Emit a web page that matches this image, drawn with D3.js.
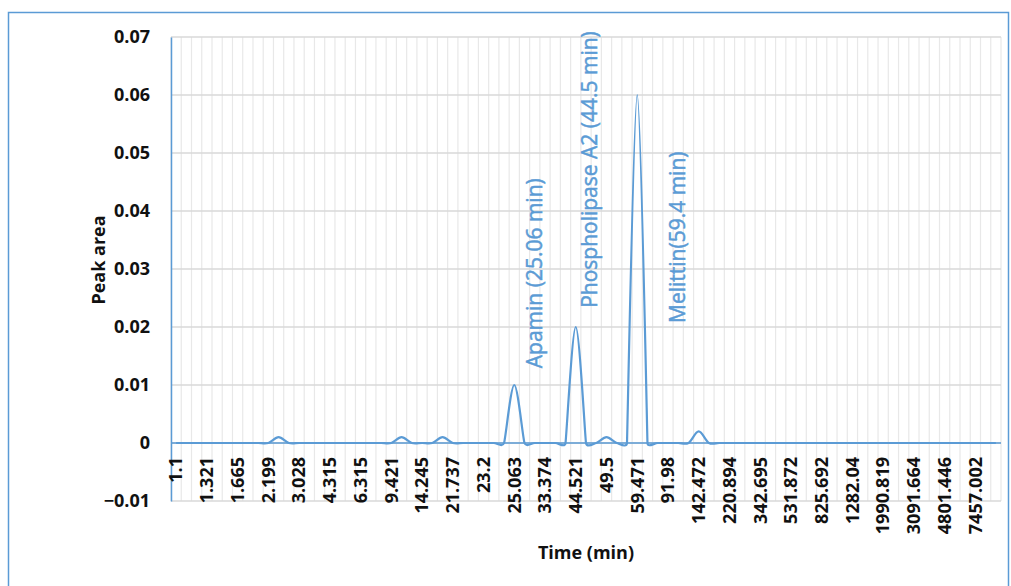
<!DOCTYPE html>
<html>
<head>
<meta charset="utf-8">
<script src="https://cdn.jsdelivr.net/npm/d3@7"></script>
<style>
  html, body { margin: 0; padding: 0; background: #fff; }
  svg { display: block; }
</style>
</head>
<body>
<svg id="chart" width="1011" height="586"></svg>
<script>
// ---- data ----
const tickLabels = ["1.1","1.321","1.665","2.199","3.028","4.315","6.315","9.421","14.245","21.737","23.2","25.063","33.374","44.521","49.5","59.471","91.98","142.472","220.894","342.695","531.872","825.692","1282.04","1990.819","3091.664","4801.446","7457.002"];
const labelEvery = 3;
const values = [
  0, 0, 0, 0, 0, 0, 0, 0, 0, 0,
  0.001, 0, 0, 0, 0, 0, 0, 0, 0, 0,
  0, 0, 0.001, 0, 0, 0, 0.001, 0, 0, 0,
  0, 0, 0, 0.01, 0, 0, 0, 0, 0, 0.02,
  0, 0, 0.001, 0, 0, 0.06, 0, 0, 0, 0,
  0, 0.002, 0, 0, 0, 0, 0, 0, 0, 0,
  0, 0, 0, 0, 0, 0, 0, 0, 0, 0,
  0, 0, 0, 0, 0, 0, 0, 0, 0, 0,
  0
];
const yTicks = [-0.01, 0, 0.01, 0.02, 0.03, 0.04, 0.05, 0.06, 0.07];
const annotations = [
  { text: "Apamin (25.06 min)", cat: 35.0, y: 0.0129 },
  { text: "Phospholipase  A2 (44.5 min)", cat: 40.4, y: 0.0233 },
  { text: "Melittin(59.4 min)", cat: 48.9, y: 0.0207 }
];

// ---- Excel-like smoothed curve (Bezier, tangent limited by neighbouring chords) ----
function excelSmooth(context) {
  let pts = [];
  return {
    areaStart() {}, areaEnd() {},
    lineStart() { pts = []; },
    point(x, y) { pts.push([+x, +y]); },
    lineEnd() {
      const m = pts.length;
      if (!m) return;
      const cpIn = [], cpOut = [];
      for (let i = 0; i < m; i++) {
        const p1 = pts[i];
        if (i === 0 || i === m - 1) { cpIn[i] = p1; cpOut[i] = p1; continue; }
        const p0 = pts[i - 1], p2 = pts[i + 1];
        const tx = p2[0] - p0[0], ty = p2[1] - p0[1];
        const L = Math.hypot(tx, ty);
        const d01 = Math.hypot(p1[0] - p0[0], p1[1] - p0[1]);
        const d12 = Math.hypot(p2[0] - p1[0], p2[1] - p1[1]);
        let f = 1 / 6;
        if (L > 0) f = Math.min(f, Math.min(d01, d12) / 2 / L);
        cpIn[i] = [p1[0] - tx * f, p1[1] - ty * f];
        cpOut[i] = [p1[0] + tx * f, p1[1] + ty * f];
      }
      context.moveTo(pts[0][0], pts[0][1]);
      for (let i = 1; i < m; i++) {
        context.bezierCurveTo(cpOut[i - 1][0], cpOut[i - 1][1], cpIn[i][0], cpIn[i][1], pts[i][0], pts[i][1]);
      }
    }
  };
}

// ---- layout ----
const blue = "#5B9BD5";
const pLeft = 171, pRight = 1001, pTop = 37, pBottom = 501;
const svg = d3.select("#chart");

// outer frame
svg.append("rect").attr("x", 8.5).attr("y", 12.5).attr("width", 1000).attr("height", 600)
  .attr("fill", "none").attr("stroke", blue).attr("stroke-width", 1.5);

const n = values.length;
const x = d3.scaleBand().domain(d3.range(n)).range([pLeft, pRight]).paddingInner(0).paddingOuter(0);
const xc = i => pLeft + (i + 0.5) * x.step();
const y = d3.scaleLinear().domain([-0.01, 0.07]).range([pBottom, pTop]);

// vertical gridlines at category boundaries
const g = svg.append("g");
g.selectAll("line.v").data(d3.range(n + 1)).join("line")
  .attr("class", "v")
  .attr("x1", i => pLeft + i * x.step()).attr("x2", i => pLeft + i * x.step())
  .attr("y1", pTop).attr("y2", pBottom)
  .attr("stroke", "#e8e8e8").attr("stroke-width", 1.2);

// horizontal gridlines
g.selectAll("line.h").data(yTicks).join("line")
  .attr("class", "h")
  .attr("x1", pLeft).attr("x2", pRight)
  .attr("y1", d => y(d)).attr("y2", d => y(d))
  .attr("stroke", "#d9d9d9").attr("stroke-width", 1.3);

// y axis
const yAxis = svg.append("g").attr("transform", `translate(${pLeft},0)`)
  .call(d3.axisLeft(y).tickValues(yTicks).tickSize(0).tickPadding(21)
    .tickFormat(d => d === 0 ? "0" : d3.format(".2f")(d)));
yAxis.select(".domain").attr("stroke", blue).attr("stroke-width", 1.5);
yAxis.selectAll("text").attr("font-family", "Open Sans").attr("font-weight", "bold")
  .attr("font-size", 18).attr("fill", "#111");

// x axis line at zero
svg.append("line").attr("x1", pLeft).attr("x2", pRight).attr("y1", y(0)).attr("y2", y(0))
  .attr("stroke", blue).attr("stroke-width", 1.5);

// x tick labels
const xAxis = svg.append("g").attr("transform", `translate(0,${y(0)})`)
  .call(d3.axisBottom(x).tickValues(d3.range(0, n, labelEvery)).tickSize(0)
    .tickFormat(i => tickLabels[i / labelEvery] || ""));
xAxis.select(".domain").remove();
xAxis.selectAll("text")
  .attr("font-family", "Open Sans").attr("font-weight", "bold").attr("font-size", 18).attr("fill", "#111")
  .attr("transform", "rotate(-90)").attr("text-anchor", "end")
  .attr("x", -14).attr("y", 0).attr("dy", "0.35em");

// line
const line = d3.line().x((d, i) => xc(i)).y(d => y(d)).curve(excelSmooth);
svg.append("path").datum(values).attr("d", line)
  .attr("fill", "none").attr("stroke", blue).attr("stroke-width", 2.2).attr("stroke-linejoin", "round");

// annotations
svg.selectAll("text.ann").data(annotations).join("text")
  .attr("class", "ann")
  .attr("transform", d => `translate(${xc(d.cat)},${y(d.y)}) rotate(-90)`)
  .attr("text-anchor", "start").attr("dy", "0.35em")
  .attr("font-family", "Open Sans").attr("font-size", 21).attr("fill", blue)
  .attr("stroke", blue).attr("stroke-width", 0.5)
  .text(d => d.text);

// axis titles
svg.append("text").attr("x", (pLeft + pRight) / 2).attr("y", 559).attr("text-anchor", "middle")
  .attr("font-family", "Open Sans").attr("font-weight", "bold").attr("font-size", 18).attr("fill", "#111")
  .text("Time (min)");
svg.append("text").attr("transform", `translate(99,260) rotate(-90)`).attr("text-anchor", "middle")
  .attr("dy", "0.35em")
  .attr("font-family", "Open Sans").attr("font-weight", "bold").attr("font-size", 18).attr("fill", "#111")
  .text("Peak area");
</script>
</body>
</html>
